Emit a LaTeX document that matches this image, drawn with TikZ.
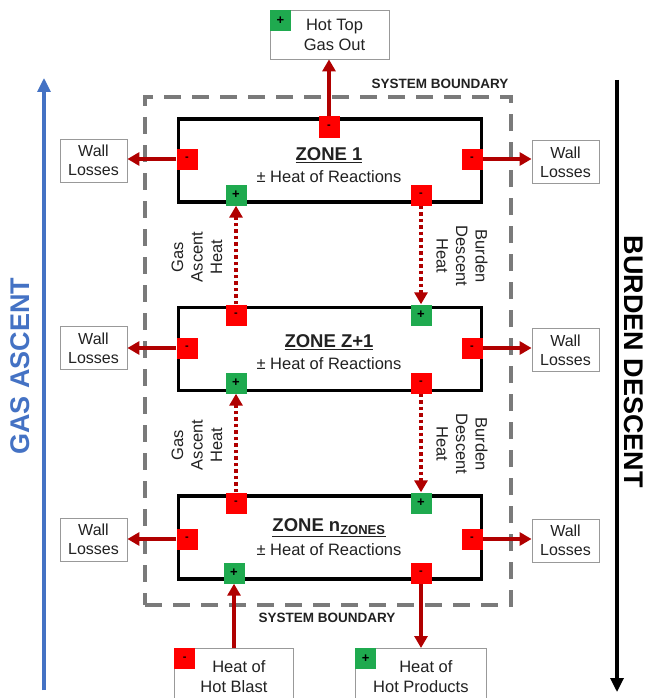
\documentclass[tikz,border=0pt]{standalone}
\usepackage{fontspec}
\setmainfont{Liberation Sans}
\usetikzlibrary{arrows.meta}
\definecolor{sqred}{HTML}{FF0000}
\definecolor{sqgreen}{HTML}{1FAA4F}
\definecolor{arrred}{HTML}{B00000}
\definecolor{bndgray}{HTML}{7A7A7A}
\definecolor{gasblue}{HTML}{4472C4}
\definecolor{txtgray}{HTML}{222222}
\begin{document}
\begin{tikzpicture}[x=1pt,y=-1pt,
  zone/.style={draw=black,line width=3.8pt,minimum width=303pt,minimum height=83pt,inner sep=0pt},
  negsq/.style={fill=sqred,minimum size=21pt,inner sep=0pt,font=\bfseries\fontsize{11}{11}\selectfont},
  possq/.style={fill=sqgreen,minimum size=21pt,inner sep=0pt,font=\bfseries\fontsize{13}{13}\selectfont},
  wall/.style={draw=gray!80,line width=0.8pt,minimum width=67pt,minimum height=43pt,align=center,inner sep=0pt,font=\fontsize{16}{19}\selectfont,text=txtgray},
  ext/.style={draw=gray!80,line width=0.8pt,align=center,inner sep=0pt,font=\fontsize{16.5}{20}\selectfont,text=txtgray},
  flow/.style={draw=arrred,line width=3.5pt,-{Triangle[width=13pt,length=12pt]}},
  dflow/.style={draw=arrred,line width=3.5pt,dash pattern=on 3.5pt off 3pt,-{Triangle[width=13pt,length=12pt]}},
  zt/.style={font=\bfseries\fontsize{18.5}{20}\selectfont,text=txtgray},
  zr/.style={font=\fontsize{16.5}{18}\selectfont,text=txtgray},
  sblabel/.style={font=\bfseries\fontsize{13.5}{14}\selectfont,text=txtgray},
  vlabel/.style={font=\fontsize{16.5}{19.5}\selectfont,align=center,text=txtgray},
]
\useasboundingbox (0,0) rectangle (650,698);
\fill[white] (0,0) rectangle (650,698);

% system boundary
\node[draw=bndgray,line width=4pt,dash pattern=on 17pt off 11pt,minimum width=366pt,minimum height=508pt,inner sep=0pt] (sb) at (328,351) {};
\node[sblabel] (sbt) at (440,84) {SYSTEM BOUNDARY};
\node[sblabel] (sbb) at (327,618) {SYSTEM BOUNDARY};

% side arrows
\coordinate (ga1) at (44,690);
\coordinate (ga2) at (44,78);
\draw[draw=gasblue,line width=3.2pt,-{Triangle[width=13pt,length=14pt]}] (ga1) -- (ga2);
\node[rotate=90,text=gasblue,font=\bfseries\fontsize{27}{30}\selectfont] (gat) at (20,366) {GAS ASCENT};
\coordinate (bd1) at (617,80);
\coordinate (bd2) at (617,692);
\draw[draw=black,line width=3.2pt,-{Triangle[width=13pt,length=14pt]}] (bd1) -- (bd2);
\node[rotate=-90,text=black,font=\bfseries\fontsize{27}{30}\selectfont] (bdt) at (634,362) {BURDEN DESCENT};

% zones
\node[zone] (z1) at (330,160.5) {};
\node[zone] (z2) at (330,349) {};
\node[zone] (z3) at (330,537.5) {};

\node[zt] (z1a) at (329,155) {\underline{ZONE 1}};
\node[zr] (z1b) at (329,177) {± Heat of Reactions};
\node[zt] (z2a) at (329,342) {\underline{ZONE Z+1}};
\node[zr] (z2b) at (329,364) {± Heat of Reactions};
\node[zt] (z3a) at (329,528) {\underline{ZONE n\textsubscript{\fontsize{13}{13}\selectfont ZONES}}};
\node[zr] (z3b) at (329,550) {± Heat of Reactions};

% squares zone 1
\node[negsq] (z1t) at (329,127) {-};
\node[negsq] (z1l) at (187,159) {-};
\node[negsq] (z1r) at (472,159) {-};
\node[possq] (z1bl) at (236,195) {+};
\node[negsq] (z1br) at (421,195) {-};
% zone 2
\node[negsq] (z2tl) at (236,315) {-};
\node[possq] (z2tr) at (421,315) {+};
\node[negsq] (z2l) at (187,348) {-};
\node[negsq] (z2r) at (472,348) {-};
\node[possq] (z2bl) at (236,383) {+};
\node[negsq] (z2br) at (421,383) {-};
% zone 3
\node[negsq] (z3tl) at (236,503) {-};
\node[possq] (z3tr) at (421,503) {+};
\node[negsq] (z3l) at (187,539) {-};
\node[negsq] (z3r) at (472,539) {-};
\node[possq] (z3bl) at (234,573) {+};
\node[negsq] (z3br) at (421,573) {-};

% wall losses
\node[wall] (w1l) at (93.5,160.5) {Wall\\Losses};
\node[wall] (w1r) at (565.5,162) {Wall\\Losses};
\node[wall] (w2l) at (93.5,348) {Wall\\Losses};
\node[wall] (w2r) at (565.5,350) {Wall\\Losses};
\node[wall] (w3l) at (93.5,539.5) {Wall\\Losses};
\node[wall] (w3r) at (565.5,540.5) {Wall\\Losses};

\draw[flow] (z1l.west) -- (w1l.east |- z1l.west);
\draw[flow] (z1r.east) -- (w1r.west |- z1r.east);
\draw[flow] (z2l.west) -- (w2l.east |- z2l.west);
\draw[flow] (z2r.east) -- (w2r.west |- z2r.east);
\draw[flow] (z3l.west) -- (w3l.east |- z3l.west);
\draw[flow] (z3r.east) -- (w3r.west |- z3r.east);

% top output
\node[ext,minimum width=119pt,minimum height=49pt] (hot) at (329.5,34.5) {\hspace*{10pt}Hot Top\\\hspace*{10pt}Gas Out};
\node[possq,anchor=north west] (hots) at (hot.north west) {+};
\draw[flow] (z1t.north) -- (hot.south -| z1t.north);

% inter-zone dotted
\draw[dflow] (z2tl.north) -- (z1bl.south);
\draw[dflow] (z1br.south) -- (z2tr.north);
\draw[dflow] (z3tl.north) -- (z2bl.south);
\draw[dflow] (z2br.south) -- (z3tr.north);

\node[vlabel,rotate=90] (ga1t) at (197,257) {Gas\\Ascent\\Heat};
\node[vlabel,rotate=-90] (bd1t) at (462,256) {Burden\\Descent\\Heat};
\node[vlabel,rotate=90] (ga2t) at (197,445) {Gas\\Ascent\\Heat};
\node[vlabel,rotate=-90] (bd2t) at (462,444) {Burden\\Descent\\Heat};

% bottom inputs/outputs
\node[ext,minimum width=119pt,minimum height=56pt,anchor=north west] (blast) at (174,648) {\hspace*{10pt}Heat of\\Hot Blast};
\node[negsq,anchor=north west] (blasts) at (blast.north west) {-};
\node[ext,minimum width=131pt,minimum height=56pt,anchor=north west] (prod) at (355,648) {\hspace*{10pt}Heat of\\Hot Products};
\node[possq,anchor=north west] (prods) at (prod.north west) {+};
\draw[flow] (blast.north -| z3bl.south) -- (z3bl.south);
\draw[flow] (z3br.south) -- (prod.north -| z3br.south);
\end{tikzpicture}
\end{document}
